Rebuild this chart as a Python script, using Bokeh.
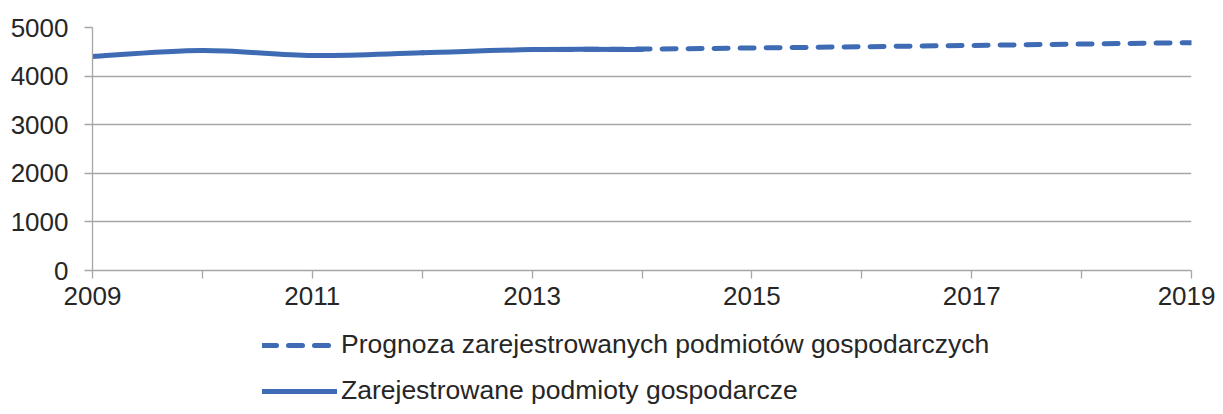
from bokeh.plotting import figure
from bokeh.layouts import column
from bokeh.models import FixedTicker, Legend, LegendItem, ColumnDataSource, Range1d
from bokeh.embed import file_html
from bokeh.resources import INLINE

years_actual = [2009, 2010, 2011, 2012, 2013, 2014]
actual = [4403, 4527, 4424, 4479, 4545, 4548]
years_forecast = [2013, 2014, 2015, 2016, 2017, 2018, 2019]
forecast = [4545, 4556, 4578, 4604, 4631, 4659, 4688]
label_forecast = "Prognoza zarejestrowanych podmiotów gospodarczych"
label_actual = "Zarejestrowane podmioty gospodarcze"
x_label_ticks = [2009, 2011, 2013, 2015, 2017, 2019]
x_minor_ticks = [2010, 2012, 2014, 2016, 2018]
y_ticks = [0, 1000, 2000, 3000, 4000, 5000]

BLUE = "#3E6BB3"
GREY = "#A6A6A6"
TEXT = "#262626"
FONT = "Liberation Sans"
FS = "26px"
DASH = "14 12"

p = figure(width=1215, height=318, output_backend="svg", toolbar_location=None,
           x_range=Range1d(2009, 2019), y_range=Range1d(0, 5000),
           min_border_left=92, min_border_right=24, min_border_top=27, min_border_bottom=48)
p.outline_line_color = None
p.xgrid.grid_line_color = None
p.ygrid.grid_line_color = GREY
p.ygrid.grid_line_width = 1.3

p.yaxis.ticker = FixedTicker(ticks=y_ticks)
p.xaxis.ticker = FixedTicker(ticks=x_label_ticks, minor_ticks=x_minor_ticks)
for ax in (p.xaxis, p.yaxis):
    ax.axis_line_color = GREY
    ax.axis_line_width = 1.3
    ax.major_tick_line_color = GREY
    ax.major_tick_line_width = 1.3
    ax.major_tick_in = 0
    ax.major_tick_out = 8
    ax.major_label_text_font = FONT
    ax.major_label_text_font_size = FS
    ax.major_label_text_color = TEXT
p.yaxis.minor_tick_line_color = None
p.xaxis.minor_tick_line_color = GREY
p.xaxis.minor_tick_line_width = 1.3
p.xaxis.minor_tick_in = 0
p.xaxis.minor_tick_out = 8
p.yaxis.major_label_standoff = 16
p.xaxis.major_label_standoff = 8

# smoothed solid series (Catmull-Rom -> cubic Bezier, like spreadsheet smoothing)
xs, ys = years_actual, actual
n = len(xs)
x0, y0, x1, y1, cx0, cy0, cx1, cy1 = [], [], [], [], [], [], [], []
for i in range(n - 1):
    xp, yp = (xs[i - 1], ys[i - 1]) if i > 0 else (xs[i], ys[i])
    xn, yn = (xs[i + 2], ys[i + 2]) if i + 2 < n else (xs[i + 1], ys[i + 1])
    x0.append(xs[i]); y0.append(ys[i]); x1.append(xs[i + 1]); y1.append(ys[i + 1])
    cx0.append(xs[i] + (xs[i + 1] - xp) / 6); cy0.append(ys[i] + (ys[i + 1] - yp) / 6)
    cx1.append(xs[i + 1] - (xn - xs[i]) / 6); cy1.append(ys[i + 1] - (yn - ys[i]) / 6)
src = ColumnDataSource(dict(x0=x0, y0=y0, x1=x1, y1=y1, cx0=cx0, cy0=cy0, cx1=cx1, cy1=cy1))
p.bezier(x0="x0", y0="y0", x1="x1", y1="y1", cx0="cx0", cy0="cy0", cx1="cx1", cy1="cy1",
         source=src, line_color=BLUE, line_width=5, line_cap="round")
p.line(years_forecast, forecast, line_color=BLUE, line_width=5, line_dash=DASH,
       line_cap="round", line_join="round")

# legend panel below the chart (key lines lie outside its visible range)
q = figure(width=1215, height=88, output_backend="svg", toolbar_location=None,
           x_axis_type=None, y_axis_type=None, x_range=Range1d(0, 1), y_range=Range1d(0, 1),
           min_border_left=0, min_border_right=0, min_border_top=0, min_border_bottom=0)
q.outline_line_color = None
q.grid.grid_line_color = None
k_fc = q.line(x=[5, 6], y=[5, 6], line_color=BLUE, line_width=5, line_dash=DASH, line_cap="round")
k_act = q.line(x=[5, 6], y=[5, 6], line_color=BLUE, line_width=5, line_cap="round")
legend = Legend(items=[LegendItem(label=label_forecast, renderers=[k_fc]),
                       LegendItem(label=label_actual, renderers=[k_act])],
                location=(170, 0), orientation="vertical",
                label_text_font=FONT, label_text_font_size="26.5px", label_text_color=TEXT,
                glyph_width=75, glyph_height=26, label_height=26, label_standoff=4,
                spacing=15, padding=0, margin=0, border_line_color=None,
                background_fill_alpha=0)
q.add_layout(legend, "center")

open("out.html", "w").write(file_html(column(p, q, spacing=0), INLINE))
